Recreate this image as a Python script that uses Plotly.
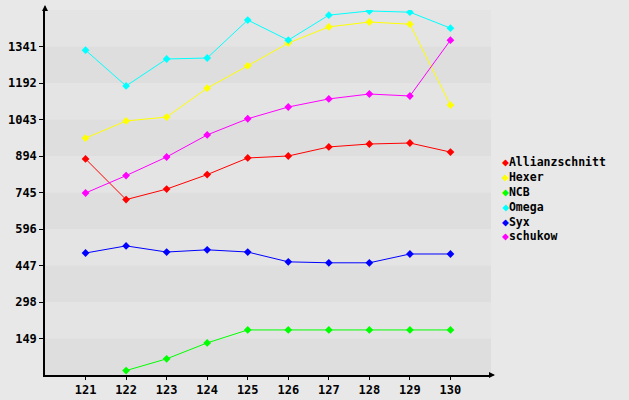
import plotly.graph_objects as go

# ---- data ----
rounds = [121, 122, 123, 124, 125, 126, 127, 128, 129, 130]
allianzschnitt = [882, 716, 759, 818, 886, 894, 931, 943, 947, 910]
hexer = [967, 1037, 1053, 1171, 1262, 1355, 1421, 1441, 1432, 1102]
ncb = [None, 18, 66, 131, 184, 184, 184, 184, 184, 184]
omega = [1326, 1180, 1290, 1294, 1449, 1367, 1469, 1486, 1481, 1416]
syx = [498, 527, 502, 511, 502, 462, 458, 458, 494, 494]
schukow = [743, 814, 890, 980, 1046, 1094, 1127, 1147, 1139, 1367]

series_names = ["Allianzschnitt", "Hexer", "NCB", "Omega", "Syx", "schukow"]
series_values = [allianzschnitt, hexer, ncb, omega, syx, schukow]
series_colors = ["#ff0000", "#ffff00", "#00ff00", "#00ffff", "#0000ff", "#ff00ff"]

y_ticks = [149, 298, 447, 596, 745, 894, 1043, 1192, 1341]
y_max = 1490
band = 149

FONT = "DejaVu Sans Mono"
FS = 12
W, H = 629, 400
ML, MR, MT, MB = 45, 138, 10, 25
PW, PH = W - ML - MR, H - MT - MB

fig = go.Figure()
for name, vals, col in zip(series_names, series_values, series_colors):
    fig.add_trace(go.Scatter(
        x=rounds, y=vals, name=name, mode="lines+markers",
        line=dict(color=col, width=1),
        marker=dict(symbol="diamond", size=6, color=col),
        showlegend=False, connectgaps=False,
    ))

# alternating horizontal bands
shapes = []
for k in range(int(y_max / band)):
    shapes.append(dict(
        type="rect", xref="paper", yref="y", x0=0, x1=1,
        y0=k * band, y1=(k + 1) * band,
        fillcolor="#dedede" if k % 2 == 0 else "#e4e4e4",
        line=dict(width=0), layer="below",
    ))

annotations = []
# axis arrows
annotations.append(dict(xref="paper", yref="paper", x=0, y=1 + 5 / PH,
                        ax=0, ay=6, showarrow=True, arrowhead=2, arrowsize=0.8,
                        arrowwidth=1.5, arrowcolor="black", text=""))
annotations.append(dict(xref="paper", yref="paper", x=1 + 4 / PW, y=0,
                        ax=-6, ay=0, showarrow=True, arrowhead=2,
                        arrowsize=0.8, arrowwidth=1.5, arrowcolor="black",
                        text=""))

# custom legend
leg_y = [161.5, 177, 192, 207, 222, 236.5]
for name, col, yp in zip(series_names, series_colors, leg_y):
    annotations.append(dict(
        xref="paper", yref="paper", x=(500.5 - ML) / PW, y=(H - MB - yp) / PH,
        xanchor="left", yanchor="middle", showarrow=False,
        text=f"<span style='color:{col}'>◆</span>{name}",
        font=dict(family=FONT, size=11.5, color="black", weight="bold"),
        borderpad=0,
    ))

fig.update_layout(
    width=W, height=H,
    margin=dict(l=ML, r=MR, t=MT, b=MB, pad=0, autoexpand=False),
    paper_bgcolor="#e8e8e8", plot_bgcolor="#e4e4e4",
    font=dict(family=FONT, size=FS, color="black", weight="bold"),
    shapes=shapes, annotations=annotations, showlegend=False,
)
fig.update_xaxes(range=[120, 131], tickvals=rounds, ticktext=[str(r) for r in rounds],
                 automargin=False,
                 showgrid=False, zeroline=False, showline=True, linecolor="black",
                 linewidth=1.5, ticks="outside", ticklen=3, tickcolor="black",
                 tickfont=dict(family=FONT, size=FS, color="black", weight="bold"))
fig.update_yaxes(range=[0, y_max], tickvals=y_ticks, ticktext=[str(t) for t in y_ticks],
                 automargin=False,
                 showgrid=False, zeroline=False, showline=True, linecolor="black",
                 linewidth=1.5, ticks="outside", ticklen=4, tickcolor="black",
                 tickfont=dict(family=FONT, size=FS, color="black", weight="bold"))

fig.write_html("out.html", config={"displayModeBar": False},
               post_script="document.body.style.margin='0';document.body.style.background='#e8e8e8';")
